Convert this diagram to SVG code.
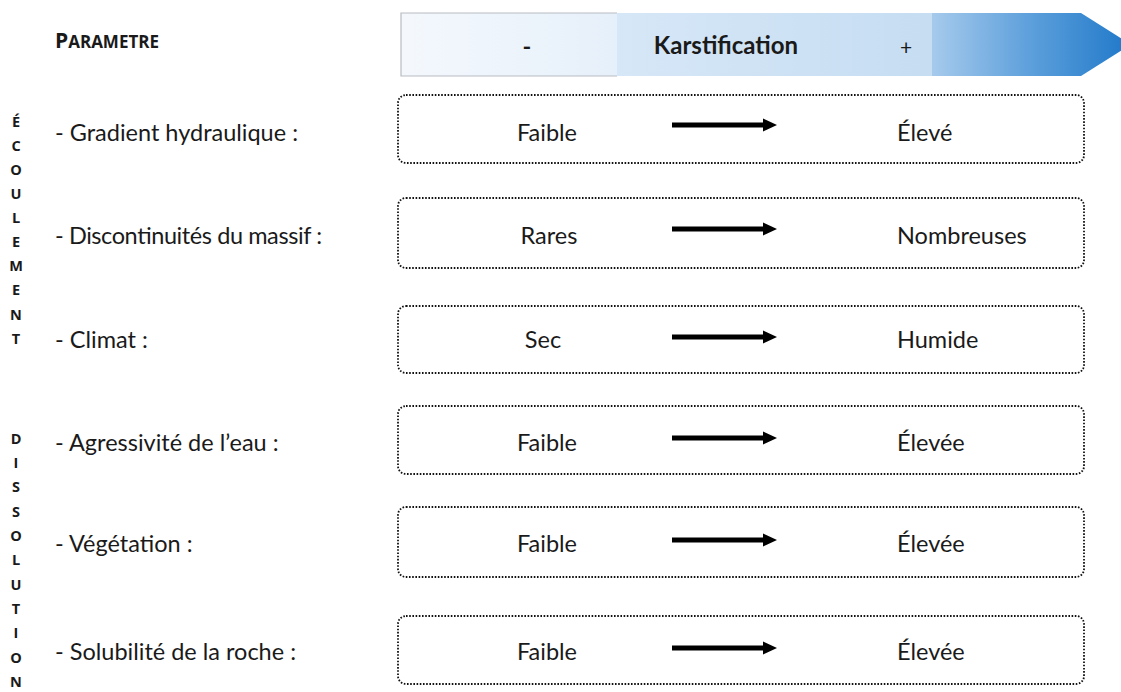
<svg xmlns="http://www.w3.org/2000/svg" width="1121" height="692" viewBox="0 0 1121 692">
<style>
.t{font-family:Lato,"Open Sans","Liberation Sans",sans-serif;font-size:23.5px;fill:#1a1a1a}
.m{text-anchor:middle}
.v{font-family:"Open Sans","Liberation Sans",sans-serif;font-size:14.5px;font-weight:bold;fill:#1a1a1a;text-anchor:middle}
.box{fill:none;stroke:#111;stroke-width:1.8;stroke-dasharray:1.6 1.6}
.arr{stroke:#000;stroke-width:5}
</style>
<defs>
<marker id="ah" markerWidth="4" markerHeight="4" refX="0" refY="2" orient="auto" markerUnits="userSpaceOnUse" viewBox="0 0 4 4" overflow="visible">
<path d="M0,-4.5 L14,2 L0,8.5 Z" fill="#000"/>
</marker>
<linearGradient id="g1" x1="0" y1="0" x2="1" y2="0">
<stop offset="0" stop-color="#f4f8fd"/><stop offset="1" stop-color="#e6f0fa"/>
</linearGradient>
<linearGradient id="g2" x1="0" y1="0" x2="1" y2="0">
<stop offset="0" stop-color="#d6e7f7"/><stop offset="1" stop-color="#c6ddf2"/>
</linearGradient>
<linearGradient id="g3" x1="0" y1="0" x2="1" y2="0">
<stop offset="0" stop-color="#a6caec"/><stop offset="0.5" stop-color="#5c9fdb"/><stop offset="1" stop-color="#1f78c9"/>
</linearGradient>
</defs>
<g id="header">
<text x="55" y="48" style="font-family:'Open Sans','Liberation Sans',sans-serif;font-weight:bold;font-size:21px;fill:#1a1a1a">P<tspan style="font-size:17px">ARAMETRE</tspan></text>
</g>
<g id="banner">
<rect x="401" y="13" width="216" height="63" fill="url(#g1)"/>
<rect x="617" y="13" width="315" height="63" fill="url(#g2)"/>
<polygon points="932,13 1081,13 1131,44.5 1081,76 932,76" fill="url(#g3)"/>
<path d="M617,13 H401 V76 H617" fill="none" stroke="#b8bcc2" stroke-width="1.2"/>
<text x="527" y="55" class="t m" style="font-weight:bold">-</text>
<text x="726" y="54" class="t m" style="font-weight:bold;font-size:24px">Karstification</text>
<text x="906" y="55" class="t m" style="font-size:21px">+</text>
</g>
<g id="side">
<text class="v"><tspan x="16" y="127">É</tspan><tspan x="16" y="151">C</tspan><tspan x="16" y="175">O</tspan><tspan x="16" y="199">U</tspan><tspan x="16" y="223">L</tspan><tspan x="16" y="247">E</tspan><tspan x="16" y="271">M</tspan><tspan x="16" y="295">E</tspan><tspan x="16" y="320">N</tspan><tspan x="16" y="344">T</tspan></text>
<text class="v"><tspan x="16" y="444">D</tspan><tspan x="16" y="468">I</tspan><tspan x="16" y="492">S</tspan><tspan x="16" y="517">S</tspan><tspan x="16" y="541">O</tspan><tspan x="16" y="565">L</tspan><tspan x="16" y="590">U</tspan><tspan x="16" y="614">T</tspan><tspan x="16" y="638">I</tspan><tspan x="16" y="663">O</tspan><tspan x="16" y="687">N</tspan></text>
</g>
<g id="row1">
<text x="55" y="141" class="t">- Gradient hydraulique :</text>
<rect x="398" y="95" width="686" height="68" rx="8" class="box"/>
<text x="547" y="141" class="t m">Faible</text>
<text x="897" y="141" class="t">Élevé</text>
</g>
<g id="row2">
<text x="55" y="244" class="t" textLength="267">- Discontinuités du massif :</text>
<rect x="398" y="198" width="686" height="70" rx="8" class="box"/>
<text x="549" y="244" class="t m">Rares</text>
<text x="897" y="244" class="t">Nombreuses</text>
</g>
<g id="row3">
<text x="55" y="348" class="t">- Climat :</text>
<rect x="398" y="306" width="686" height="67" rx="8" class="box"/>
<text x="543" y="348" class="t m">Sec</text>
<text x="897" y="348" class="t">Humide</text>
</g>
<g id="row4">
<text x="55" y="451" class="t">- Agressivité de l’eau :</text>
<rect x="398" y="406" width="686" height="68" rx="8" class="box"/>
<text x="547" y="451" class="t m">Faible</text>
<text x="897" y="451" class="t">Élevée</text>
</g>
<g id="row5">
<text x="55" y="552" class="t">- Végétation :</text>
<rect x="398" y="507" width="686" height="70" rx="8" class="box"/>
<text x="547" y="552" class="t m">Faible</text>
<text x="897" y="552" class="t">Élevée</text>
</g>
<g id="row6">
<text x="55" y="660" class="t">- Solubilité de la roche :</text>
<rect x="398" y="616" width="686" height="68" rx="8" class="box"/>
<text x="547" y="660" class="t m">Faible</text>
<text x="897" y="660" class="t">Élevée</text>
</g>
<g id="connectors">
<line x1="672" y1="125" x2="763" y2="125" class="arr" marker-end="url(#ah)"/>
<line x1="672" y1="229" x2="763" y2="229" class="arr" marker-end="url(#ah)"/>
<line x1="672" y1="337" x2="763" y2="337" class="arr" marker-end="url(#ah)"/>
<line x1="672" y1="438" x2="763" y2="438" class="arr" marker-end="url(#ah)"/>
<line x1="672" y1="540" x2="763" y2="540" class="arr" marker-end="url(#ah)"/>
<line x1="672" y1="648" x2="763" y2="648" class="arr" marker-end="url(#ah)"/>
</g>
</svg>
